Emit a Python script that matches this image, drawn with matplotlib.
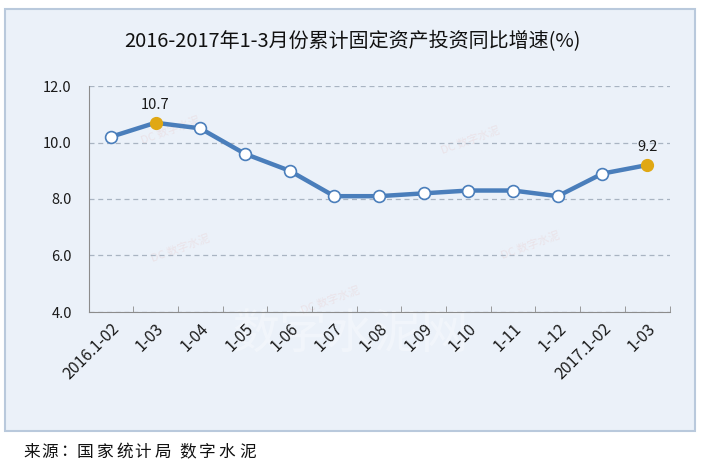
import matplotlib
matplotlib.use("Agg")
import matplotlib.pyplot as plt
from matplotlib.patches import Rectangle

plt.rcParams['font.family'] = ['Noto Sans CJK SC', 'DejaVu Sans']

categories = ["2016.1-02", "1-03", "1-04", "1-05", "1-06", "1-07", "1-08",
              "1-09", "1-10", "1-11", "1-12", "2017.1-02", "1-03"]
values = [10.2, 10.7, 10.5, 9.6, 9.0, 8.1, 8.1, 8.2, 8.3, 8.3, 8.1, 8.9, 9.2]
highlight_idx = [1, 12]
y_ticks = [4.0, 6.0, 8.0, 10.0, 12.0]
title = "2016-2017年1-3月份累计固定资产投资同比增速(%)"
source = "来源：国家统计局 数字水泥"

W, H = 703, 468
fig = plt.figure(figsize=(W / 100, H / 100), dpi=100)
fig.patch.set_facecolor("white")

bg = "#EBF1F9"
# outer panel
fig.patches.append(Rectangle((5 / W, 1 - 431 / H), 690 / W, 422 / H,
                             transform=fig.transFigure, facecolor=bg,
                             edgecolor="#B9C9DC", linewidth=1.5, zorder=0))

# faint watermarks
fig.text(350 / W, 1 - 335 / H, "数字水泥网", ha="center", va="center",
         fontsize=34, color="white", alpha=0.35, zorder=1)
for (wx, wy) in [(170, 130), (470, 140), (180, 248), (530, 245), (330, 300)]:
    fig.text(wx / W, 1 - wy / H, "DC 数字水泥", ha="center", va="center",
             fontsize=8, color="#E8C8C8", alpha=0.35, rotation=20, zorder=1)

ax = fig.add_axes([88.5 / W, 1 - 312 / H, 581 / W, 226 / H])
ax.set_zorder(2)
ax.patch.set_alpha(0)

x = list(range(len(categories)))
ax.plot(x, values, color="#4A7EBB", linewidth=3.2, zorder=3)
for i, v in enumerate(values):
    if i in highlight_idx:
        ax.plot(i, v, 'o', markersize=8.5, markerfacecolor="#E0A814",
                markeredgecolor="#E0A814", zorder=4)
        ax.annotate(f"{v:.1f}", (i, v), xytext=(0, 8), textcoords="offset points",
                    ha="center", va="bottom", fontsize=10.5, color="#1a1a1a")
    else:
        ax.plot(i, v, 'o', markersize=8.5, markerfacecolor="white",
                markeredgecolor="#4A7EBB", markeredgewidth=1.2, zorder=4)

ax.set_xlim(-0.5, len(categories) - 0.5)
ax.set_ylim(4.0, 12.0)
ax.set_yticks(y_ticks)
ax.set_yticklabels([f"{t:.1f}" for t in y_ticks], fontsize=10.5, color="#1a1a1a")
ax.yaxis.grid(True, linestyle=(0, (4, 3)), color="#A9B4C2", linewidth=0.9)
ax.set_axisbelow(True)

ax.set_xticks(x)
ax.set_xticklabels(categories, rotation=45, ha="right", rotation_mode="anchor",
                   fontsize=11.5, color="#1a1a1a")
ax.set_xticks([i - 0.5 for i in range(len(categories) + 1)], minor=True)
ax.tick_params(axis="x", which="major", length=0, pad=6)
ax.tick_params(axis="x", which="minor", direction="in", length=4, color="#8C8C8C")
ax.tick_params(axis="y", length=0, pad=12)

for s in ["top", "right"]:
    ax.spines[s].set_visible(False)
ax.spines["left"].set_color("#8C8C8C")
ax.spines["bottom"].set_color("#8C8C8C")

fig.text(352 / W, 1 - 42 / H, title, ha="center", va="center",
         fontsize=14.4, color="#111111")

# source line, characters spaced as in the reference
src_x = [32, 50, 68, 85, 105, 125, 143, 163, 188, 207, 227, 248]
chars = [c for c in source if c != " "]
for cx, ch in zip(src_x, chars):
    fig.text(cx / W, 1 - 452 / H, ch, ha="center", va="center",
             fontsize=12, color="#111111")

fig.savefig("out.png", dpi=100, facecolor=fig.get_facecolor())
